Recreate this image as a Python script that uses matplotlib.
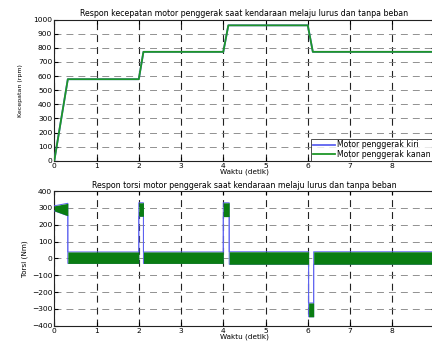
import matplotlib
matplotlib.use("Agg")
import matplotlib.pyplot as plt

# Speed response (rpm) of the two drive motors
speed_t = [0.0, 0.32, 2.00, 2.11, 4.00, 4.12, 6.00, 6.12, 9.0]
speed_kanan = [0, 578, 578, 772, 772, 960, 960, 772, 772]
speed_kiri = [0, 578, 578, 772, 772, 960, 960, 772, 772]

# Torque response (Nm): envelope of the fast ripple band
torque_t = [0.0, 0.32, 0.32, 2.00, 2.00, 2.11, 2.11, 4.00, 4.00, 4.14, 4.14,
            6.02, 6.02, 6.14, 6.14, 9.0]
torque_hi = [312, 327, 38, 38, 330, 330, 38, 38, 330, 330, 39,
             39, -265, -265, 39, 39]
torque_lo = [282, 253, -30, -30, 250, 250, -30, -30, 248, 248, -35,
             -35, -347, -347, -35, -35]

x_ticks = list(range(0, 10))
x_ticklabels = ["0", "1", "2", "3", "4", "5", "6", "7", "8", ""]
speed_ticks = list(range(0, 1001, 100))
torque_ticks = list(range(-400, 401, 100))

title_speed = "Respon kecepatan motor penggerak saat kendaraan melaju lurus dan tanpa beban"
title_torque = "Respon torsi motor penggerak saat kendaraan melaju lurus dan tanpa beban"
xlabel = "Waktu (detik)"
legend_labels = ["Motor penggerak kiri", "Motor penggerak kanan"]

BLUE = "#5d62f0"
GREEN = "#1e9628"
DARK_GREEN = "#0a7d12"

plt.rcParams["font.family"] = ["DejaVu Sans"]
plt.rcParams["lines.scale_dashes"] = False

fig = plt.figure(figsize=(4.32, 3.43), dpi=100)
W, H = 432.0, 343.0
left = 54.3 / W
width = 380.2 / W
ax1 = fig.add_axes([left, (H - 160.7) / H, width, (160.7 - 19.7) / H])
ax2 = fig.add_axes([left, (H - 325.7) / H, width, (325.7 - 191.0) / H])


def style(ax, yticks):
    ax.set_xlim(0, 9)
    ax.set_xticks(x_ticks)
    ax.set_xticklabels(x_ticklabels)
    ax.set_yticks(yticks)
    ax.set_ylim(yticks[0], yticks[-1])
    ax.tick_params(direction="in", top=True, right=True, length=3,
                   width=0.8, labelsize=5.4, pad=1.5)
    for s in ax.spines.values():
        s.set_linewidth(0.8)
        s.set_color("#222222")
    ax.set_axisbelow(True)
    ax.xaxis.grid(True, color="#222222", linewidth=0.8, dashes=(5, 3.6))
    ax.yaxis.grid(True, color="#808080", linewidth=0.6, dashes=(5, 3.6))
    ax.set_xlabel(xlabel, fontsize=5.2, labelpad=0)


# Speed subplot
l1, = ax1.plot(speed_t, speed_kiri, color=BLUE, linewidth=1.3, zorder=3)
l2, = ax1.plot(speed_t, speed_kanan, color=GREEN, linewidth=1.3, zorder=4)
style(ax1, speed_ticks)
ax1.set_title(title_speed, fontsize=5.7, pad=3)
ax1.set_ylabel("Kecepatan (rpm)", fontsize=4.5, labelpad=7)
leg = ax1.legend([l1, l2], legend_labels, loc="lower right",
                 bbox_to_anchor=(0.994, 0.0), borderaxespad=0, fontsize=5.6,
                 frameon=True, fancybox=False, handlelength=2.8,
                 handletextpad=0.3, borderpad=0.2, labelspacing=0.1)
leg.get_frame().set_edgecolor("#222222")
leg.get_frame().set_linewidth(0.7)
leg.set_zorder(10)

# Torque subplot: left motor outline under the right motor band
ax2.plot(torque_t, torque_hi, color=BLUE, linewidth=0.7, zorder=3)
ax2.plot(torque_t, torque_lo, color=BLUE, linewidth=0.7, zorder=3)
ax2.fill_between(torque_t, torque_lo, torque_hi, color=DARK_GREEN,
                 linewidth=0, zorder=4)
style(ax2, torque_ticks)
ax2.set_title(title_torque, fontsize=5.7, pad=2)
ax2.set_ylabel("Torsi (Nm)", fontsize=5.2, labelpad=3)

fig.savefig("out.png", dpi=100)
